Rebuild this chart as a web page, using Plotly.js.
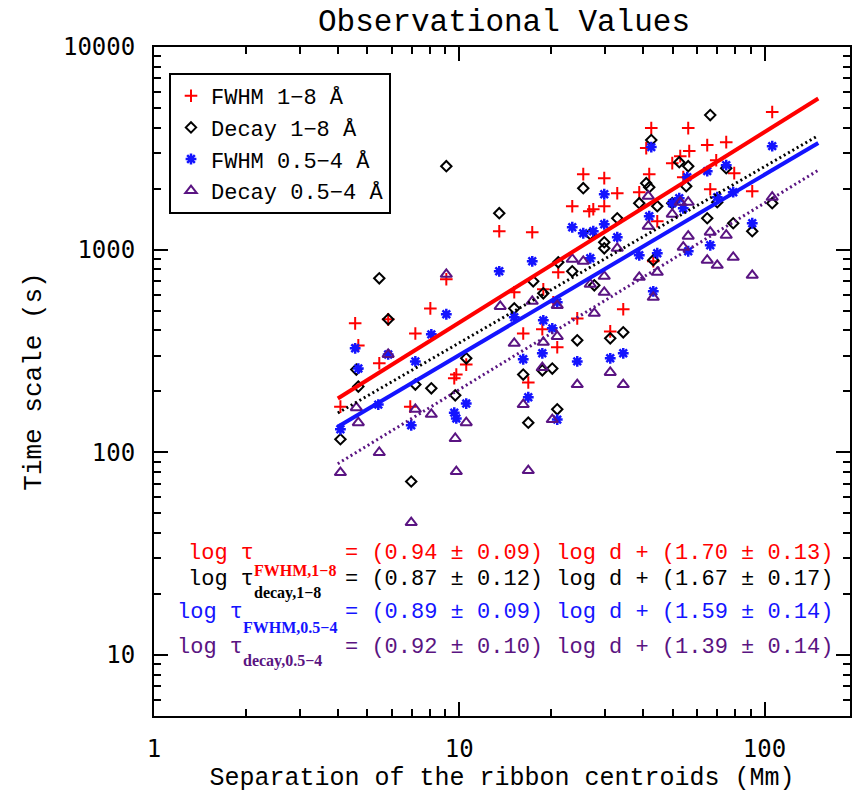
<!DOCTYPE html>
<html>
<head>
<meta charset="utf-8">
<script src="https://cdn.plot.ly/plotly-3.0.1.min.js"></script>
<style>html,body{margin:0;padding:0;background:#fff;}#chart{width:853px;height:796px;}</style>
</head>
<body>
<div id="chart"></div>
<script>
// ---- Data ----
// FWHM 1-8 Å : separation d (Mm) and time scale tau (s)
const fwhm18D = [4.08,4.56,4.67,5.47,5.85,7.18,8.04,6.91,9.07,9.78,9.63,10.54,15.14,13.52,17.34,21.10,23.45,26.66,27.48,25.48,29.85,29.85,32.93,38.87,41.91,40.97,42.56,56.24,52.96,56.67,49.86,54.17,44.53,43.21,105.97,64.91,74.91,69.47,79.57,66.40,91.15,18.85,20.32,24.35,34.45,31.23,16.20,18.71,20.94,16.83];
const fwhm18T = [168,433,337,275,453,386,513,168,714,242,232,271,616,1233,1219,773,1638,1548,1583,2358,2253,1638,1899,1921,2358,3170,3980,3980,2894,3064,2672,2279,1381,876,4775,3280,3393,2764,2385,1988,1943,637,550,458,508,395,386,405,330,221];

// Decay 1-8 Å
const decay18D = [9.07,13.52,5.47,5.85,4.60,4.67,7.18,8.10,10.54,9.70,15.14,4.08,6.96,25.48,42.56,40.97,41.91,38.87,44.53,52.56,56.24,55.4,49.86,32.93,26.86,29.85,29.85,21.10,23.45,43.21,66.40,74.91,70.00,64.91,78.97,91.15,105.97,17.47,27.69,18.85,24.35,31.23,34.45,20.17,18.71,16.20,20.94,16.83];
const decay18T = [2582,1513,722,453,256,211,216,207,291,191,513,116,71.8,2010,3472,2129,2033,1695,1638,2702,2582,2057,1695,1429,1192,1088,1016,866,782,887,4613,2524,1714,1429,1350,1233,1695,698,667,609,357,365,391,259,254,242,163,140];

// FWHM 0.5-4 Å
const fwhm054D = [13.52,4.56,4.67,5.85,7.18,8.10,9.07,4.08,5.43,6.96,9.63,9.78,10.54,15.14,17.34,23.45,25.48,27.48,29.85,29.85,32.93,26.86,38.87,44.53,41.91,42.56,49.86,52.56,54.17,56.24,55.83,105.97,74.91,64.91,78.97,70.00,91.15,66.40,18.85,20.17,20.94,18.71,16.20,24.35,31.23,34.45,16.83,20.94,43.21];
const fwhm054T = [782,326,259,304,281,382,480,130,172,136,157,147,174,464,876,1290,1205,1233,1335,1877,1152,907,938,960,1462,3206,1695,1794,1601,982,2279,3242,2612,2440,1921,1814,1350,1051,448,409,550,308,288,281,291,308,187,145,623];

// Decay 0.5-4 Å
const decay054D = [9.07,5.85,4.60,4.67,7.18,8.10,10.54,9.70,13.62,15.14,5.47,4.08,9.78,6.96,23.45,25.48,29.85,32.93,38.87,44.53,41.60,41.60,49.86,52.96,56.24,56.24,54.17,105.97,66.40,74.91,64.91,70.00,78.97,91.15,17.34,20.94,26.86,29.85,27.69,43.21,18.85,20.94,18.71,31.23,34.45,24.35,16.20,20.17,16.83];
const decay054T = [756,304,166,140,163,154,140,117,525,345,99.8,79.5,80.4,45.0,897,876,739,1016,730,773,1305,1835,1496,1714,1714,1165,1028,1814,1219,1178,887,837,917,747,556,531,675,616,485,582,349,373,262,248,216,216,172,145,81.3];

// Fit results: log tau = a log d + b
const seriesNames   = ["FWHM 1\u22128 \u00C5", "Decay 1\u22128 \u00C5", "FWHM 0.5\u22124 \u00C5", "Decay 0.5\u22124 \u00C5"];
const fitLabels     = ["FWHM,1\u22128", "decay,1\u22128", "FWHM,0.5\u22124", "decay,0.5\u22124"];
const fitSlope      = [0.94, 0.87, 0.89, 0.92];
const fitSlopeErr   = [0.09, 0.12, 0.09, 0.10];
const fitIntercept  = [1.70, 1.67, 1.59, 1.39];
const fitInterceptErr = [0.13, 0.17, 0.14, 0.14];
const fitRange      = [4, 150];

// ---- Styles ----
const colors  = ["#ff0000", "#000000", "#1414ff", "#5a1482"];
const symbols = ["cross-thin-open", "diamond-open", "asterisk-open", "triangle-up-open"];
const msizes  = [9, 8, 9, 10];
const mlines  = [2, 2, 2.5, 2];
const dataD = [fwhm18D, decay18D, fwhm054D, decay054D];
const dataT = [fwhm18T, decay18T, fwhm054T, decay054T];

const traces = [];
for (let i = 0; i < 4; i++) {
  traces.push({
    type: "scatter", mode: "markers", name: seriesNames[i],
    x: dataD[i], y: dataT[i],
    marker: {symbol: symbols[i], size: msizes[i], color: colors[i],
             line: {color: colors[i], width: mlines[i]}}
  });
}
const lineStyles = [
  {width: 4, dash: "solid"},
  {width: 3, dash: "2px,3px"},
  {width: 4, dash: "solid"},
  {width: 3, dash: "2px,3px"}
];
for (let i = 0; i < 4; i++) {
  const ys = fitRange.map(d => Math.pow(10, fitSlope[i] * Math.log10(d) + fitIntercept[i]));
  traces.push({
    type: "scatter", mode: "lines", showlegend: false, hoverinfo: "skip",
    x: fitRange, y: ys,
    line: {color: colors[i], width: lineStyles[i].width, dash: lineStyles[i].dash}
  });
}

// pixel -> paper helpers for text placement
const L = 154, R = 850, T = 47, B = 716;
const px = v => (v - L) / (R - L);
const py = v => (B - v) / (B - T);

const rowY   = [553, 579, 612, 647];
const subY   = [570, 593, 627, 661];
const logX   = [186, 186, 175, 175];
const subX   = [252, 252, 241, 241];
const mono = "Liberation Mono, Courier New, monospace";

const annotations = [];
for (let i = 0; i < 4; i++) {
  const f2 = v => v.toFixed(2);
  annotations.push({xref: "paper", yref: "paper", x: px(logX[i]), y: py(rowY[i]),
    xanchor: "left", yanchor: "middle", showarrow: false, text: "log \u03C4",
    font: {family: mono, size: 22, color: colors[i]}});
  annotations.push({xref: "paper", yref: "paper", x: px(subX[i]), y: py(subY[i]),
    xanchor: "left", yanchor: "middle", showarrow: false, text: "<b>" + fitLabels[i] + "</b>",
    font: {family: "Liberation Serif, Times New Roman, serif", size: 16, color: colors[i]}});
  annotations.push({xref: "paper", yref: "paper", x: px(835), y: py(rowY[i]),
    xanchor: "right", yanchor: "middle", showarrow: false,
    text: "= (" + f2(fitSlope[i]) + " \u00B1 " + f2(fitSlopeErr[i]) + ") log d + (" +
          f2(fitIntercept[i]) + " \u00B1 " + f2(fitInterceptErr[i]) + ")",
    font: {family: mono, size: 22, color: colors[i]}});
}

const axisCommon = {
  type: "log", tickmode: "linear", tick0: 0, dtick: 1,
  ticks: "inside", ticklen: 14, tickwidth: 2, tickcolor: "#000",
  minor: {ticks: "inside", ticklen: 7, tickwidth: 2, tickcolor: "#000"},
  showline: true, linewidth: 2, linecolor: "#000", mirror: "ticks",
  showgrid: false, zeroline: false, exponentformat: "none", tickformat: "d",
  tickfont: {family: "DejaVu Sans Mono, monospace", size: 24, color: "#000"}
};

const layout = {
  width: 853, height: 796,
  margin: {l: L, r: 853 - R, t: T, b: 796 - B},
  paper_bgcolor: "#fff", plot_bgcolor: "#fff",
  title: {text: "Observational Values", x: px(504), xref: "paper", xanchor: "center",
          y: 1 - 20 / 796, yanchor: "middle",
          font: {family: mono, size: 31, color: "#000"}},
  xaxis: Object.assign({}, axisCommon, {
    range: [0, 2.28], ticklabelstandoff: 10,
    title: {text: "Separation of the ribbon centroids (Mm)", standoff: 6,
            font: {family: mono, size: 25, color: "#000"}}
  }),
  yaxis: Object.assign({}, axisCommon, {
    range: [Math.log10(5), 4], ticklabelstandoff: 12,
    title: {text: "Time scale (s)", standoff: 14,
            font: {family: mono, size: 26, color: "#000"}}
  }),
  legend: {x: px(169), y: py(73), xanchor: "left", yanchor: "top",
           bgcolor: "#fff", bordercolor: "#000", borderwidth: 2,
           font: {family: mono, size: 22, color: "#000"}},
  annotations: annotations,
  showlegend: true
};

Plotly.newPlot("chart", traces, layout, {staticPlot: true, displayModeBar: false});
</script>
</body>
</html>
